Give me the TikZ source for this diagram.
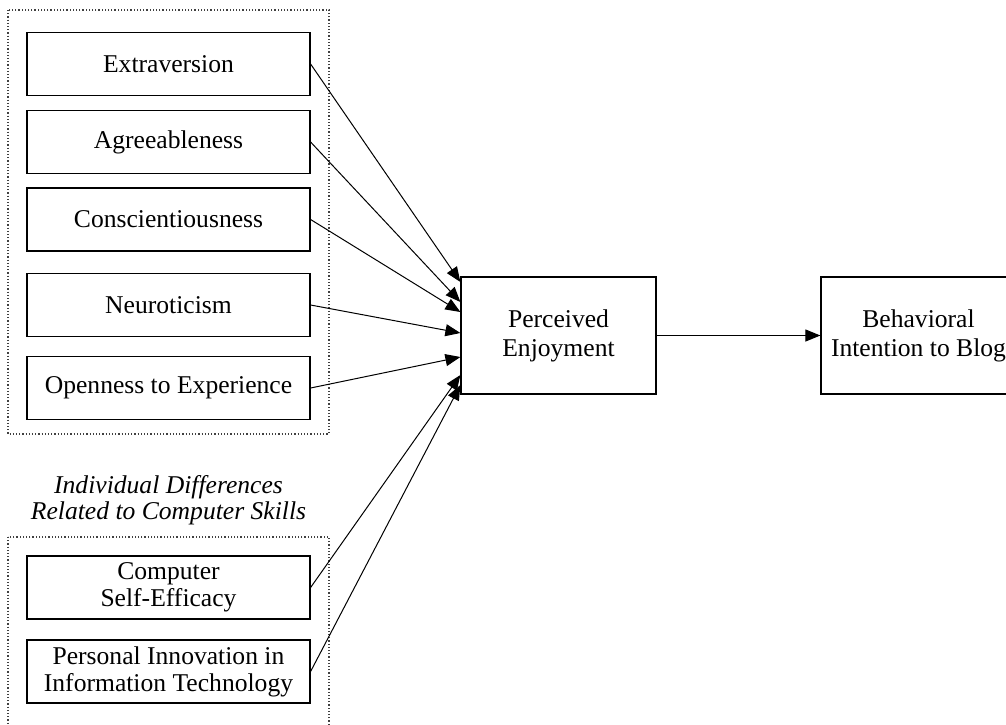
\documentclass[tikz,border=0pt]{standalone}
\usepackage{fontspec}
\setmainfont{Liberation Serif}
\usetikzlibrary{arrows.meta}
\usetikzlibrary{calc}

\begin{document}
\begin{tikzpicture}[x=0.5pt,y=-0.5pt]
                \tikzstyle{every node}=[font=\fontsize{12.8}{14}\selectfont]
                \tikzstyle{trait}=[draw,line width=0.6pt,minimum width=141.5pt,minimum height=31.5pt,inner sep=0pt,align=center]
                \tikzstyle{bigbox}=[draw,line width=0.6pt,minimum width=97.5pt,minimum height=58.5pt,inner sep=0pt,align=center,font=\fontsize{12.8}{14.5}\selectfont]
                \tikzstyle{group}=[draw=gray!50!black,densely dotted,line width=0.6pt]
                \tikzstyle{link}=[line width=0.5pt,-{Triangle[length=7.5pt,width=6pt]}]
                \useasboundingbox (0,0) rectangle (1006,724);
                \clip (0,0) rectangle (1006,724);
                % groups
                \draw [group] (8,10) rectangle (329,434);
                \draw [group] (8,537) rectangle (329,760);
                \node (title) at (168.5,500) [align=center,font=\fontsize{12.8}{13}\selectfont\itshape]{Individual Differences\\Related to Computer Skills};
                % personality traits
                \node [trait] (extra) at (168.5,64) {Extraversion};
                \node [trait] (agree) at (168.5,142) {Agreeableness};
                \node [trait] (consc) at (168.5,219.5) {Conscientiousness};
                \node [trait] (neuro) at (168.5,305) {Neuroticism};
                \node [trait] (open) at (168.5,388) {Openness to Experience};
                % computer skills
                \node [trait,font=\fontsize{12.8}{13.5}\selectfont] (cse) at (168.5,587.5) {Computer\\Self-Efficacy};
                \node [trait,font=\fontsize{12.8}{13.5}\selectfont] (piit) at (168.5,671.5) {Personal Innovation in\\Information Technology};
                % outcomes
                \node [bigbox] (pe) at (558.5,335.5) {Perceived\\Enjoyment};
                \node [bigbox] (bi) at (918.5,335.5) {Behavioral\\Intention to Blog};
                % arrows
                \draw [link] (extra.east) -- ($(pe.west)+(0,-53.5)$);
                \draw [link] (agree.east) -- ($(pe.west)+(0,-33.5)$);
                \draw [link] (consc.east) -- ($(pe.west)+(0,-23.5)$);
                \draw [link] (neuro.east) -- ($(pe.west)+(0,-2.5)$);
                \draw [link] (open.east) -- ($(pe.west)+(0,21.5)$);
                \draw [link] (cse.east) -- ($(pe.west)+(0,39.5)$);
                \draw [link] (piit.east) -- ($(pe.west)+(0,49.5)$);
                \draw [link] (pe) -- (bi);
            \end{tikzpicture}
\end{document}
